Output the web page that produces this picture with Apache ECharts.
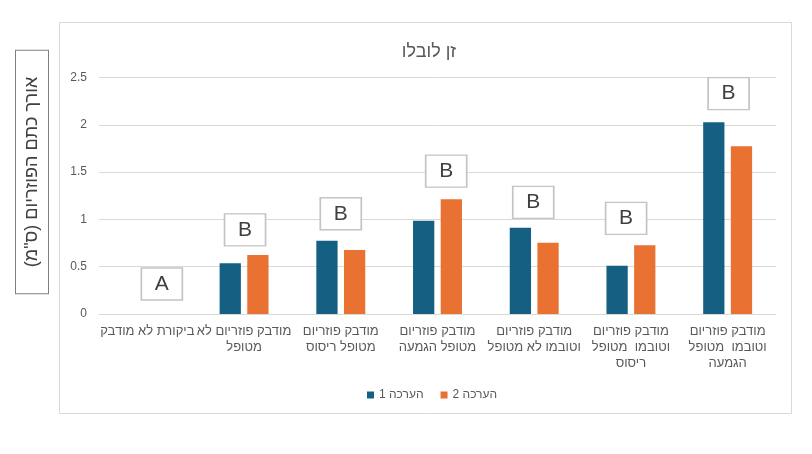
<!DOCTYPE html>
<html>
<head>
<meta charset="utf-8">
<script src="https://cdn.jsdelivr.net/npm/echarts@6/dist/echarts.min.js"></script>
<style>
html,body{margin:0;padding:0;background:#fff;}
#c{width:812px;height:454px;}
</style>
</head>
<body>
<div id="c" dir="rtl"></div>
<script>
const categories = [
  'ביקורת לא מודבק',
  'מודבק פוזריום לא\nמטופל',
  'מודבק פוזריום\nמטופל ריסוס',
  'מודבק פוזריום\nמטופל הגמעה',
  'מודבק פוזריום\nוטובמו לא מטופל',
  'מודבק פוזריום\nוטובמו  מטופל\nריסוס',
  'מודבק פוזריום\nוטובמו  מטופל\nהגמעה'
];
const seriesNames = ['הערכה 1', 'הערכה 2'];
const series1 = [null, 0.536, 0.775, 0.986, 0.912, 0.511, 2.026];
const series2 = [null, 0.624, 0.677, 1.212, 0.754, 0.726, 1.773];
const letters = ['A', 'B', 'B', 'B', 'B', 'B', 'B'];
const letterX = [0.15, 1.01, 2.0, 3.09, 3.99, 4.95, 6.01];
const letterY = [0.317, 0.89, 1.06, 1.51, 1.18, 1.01, 2.33];
const titleText = 'זן לובלו';
const yAxisTitle = 'אורך כתם הפוזריום (ס"מ)';

const FONT = 'Liberation Sans';
const chart = echarts.init(document.getElementById('c'), null, {renderer: 'canvas'});
chart.setOption({
  animation: false,
  backgroundColor: '#fff',
  textStyle: {fontFamily: FONT},
  graphic: [{
    type: 'rect', silent: true, z: -10,
    shape: {x: 59.5, y: 22.5, width: 732, height: 391},
    style: {fill: '#fff', stroke: '#d9d9d9', lineWidth: 1}
  }, {
    type: 'text', silent: true, x: 32, y: 172, rotation: Math.PI / 2,
    style: {
      text: yAxisTitle, fontSize: 18, fontFamily: FONT, fill: '#404040',
      align: 'center', verticalAlign: 'middle', lineHeight: 18,
      padding: [7, 26, 7, 26], borderColor: '#808080', borderWidth: 1, backgroundColor: '#fff'
    }
  }],
  title: {
    text: titleText, left: 424, top: 38, textAlign: 'center',
    textStyle: {fontSize: 18, fontWeight: 'normal', color: '#595959', fontFamily: FONT}
  },
  legend: {
    data: seriesNames, left: 362, top: 384, icon: 'rect', itemWidth: 7, itemHeight: 7, itemGap: 17,
    textStyle: {fontSize: 12, color: '#595959', fontFamily: FONT}
  },
  grid: {left: 99, right: 36, top: 77.5, bottom: 140, containLabel: false},
  xAxis: [{
    type: 'category', data: categories,
    axisLine: {lineStyle: {color: '#d9d9d9'}},
    axisTick: {show: false},
    axisLabel: {interval: 0, color: '#595959', fontSize: 13, lineHeight: 16, margin: 9, fontFamily: FONT}
  }, {
    type: 'value', min: -0.5, max: 6.5, show: false
  }],
  yAxis: {
    type: 'value', min: 0, max: 2.5, interval: 0.5,
    axisLine: {show: false}, axisTick: {show: false},
    splitLine: {lineStyle: {color: '#d9d9d9'}},
    axisLabel: {color: '#595959', fontSize: 12, margin: 12, fontFamily: FONT}
  },
  series: [{
    name: seriesNames[0], type: 'bar', data: series1, barWidth: '22%', barGap: '30%',
    itemStyle: {color: '#156082'}
  }, {
    name: seriesNames[1], type: 'bar', data: series2, barWidth: '22%', barGap: '30%',
    itemStyle: {color: '#E97132'}
  }, {
    type: 'scatter', xAxisIndex: 1, yAxisIndex: 0, z: 5,
    data: letters.map((l, i) => ({value: [letterX[i], letterY[i]], name: l})),
    symbol: 'rect', symbolSize: [41, 32],
    itemStyle: {color: '#fff', borderColor: '#c4c4c4', borderWidth: 1.5, opacity: 1},
    emphasis: {disabled: true},
    label: {show: true, position: 'inside', formatter: p => p.name, fontSize: 21, color: '#404040', fontFamily: FONT}
  }]
});
</script>
</body>
</html>
